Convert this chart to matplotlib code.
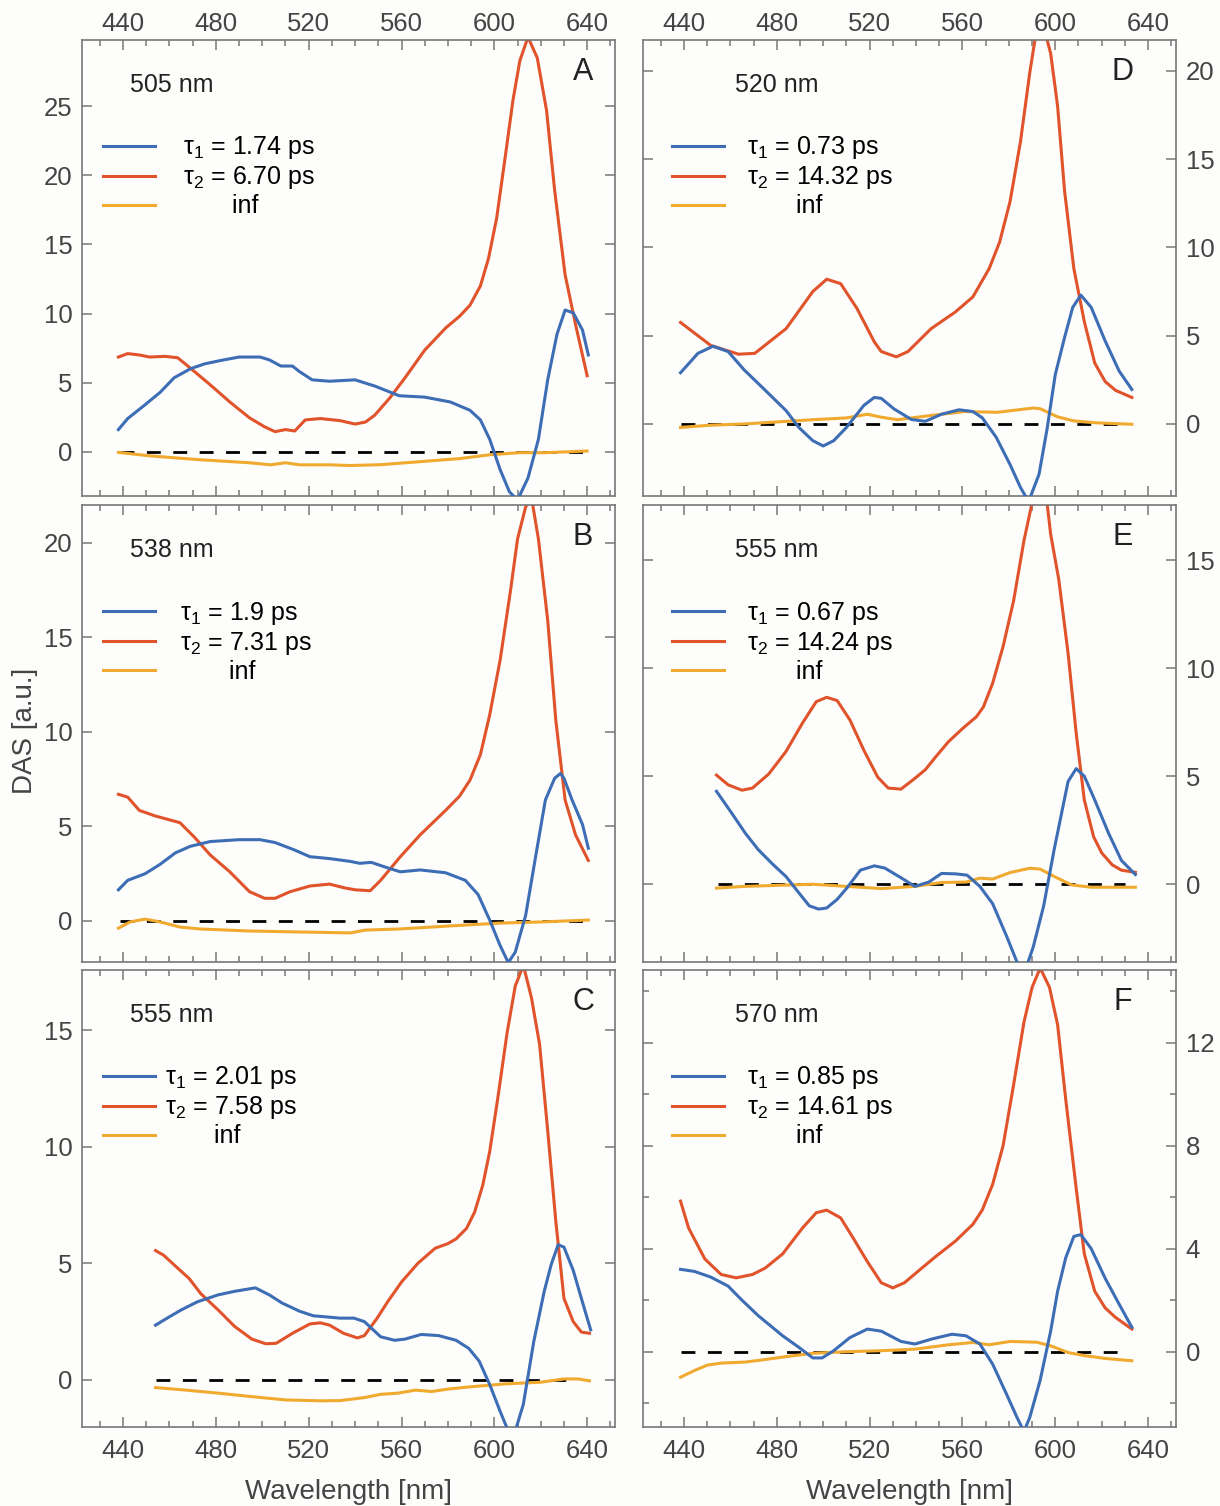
import matplotlib
matplotlib.use("Agg")
import matplotlib.pyplot as plt
from matplotlib.ticker import MultipleLocator, NullLocator

plt.rcParams['font.family'] = ['Liberation Sans', 'DejaVu Sans']
plt.rcParams['mathtext.fontset'] = 'custom'
plt.rcParams['mathtext.rm'] = 'Liberation Sans'
plt.rcParams['mathtext.it'] = 'Liberation Sans'

# colours of the three DAS components
c_t1 = '#3d6db5'
c_t2 = '#e0532b'
c_inf = '#f0aa30'

# ---------------- panel A (505 nm) ----------------
A_wl1 = [438, 442, 449.5, 456, 462, 469, 475, 482, 490, 499, 503, 508, 513, 516, 521.5, 529, 540, 548.5, 559, 570, 581, 589.5, 594, 598, 602.5, 606.5, 610, 614.5, 619, 623, 627, 630.5, 634, 638, 640.5]
A_t1 = [1.6, 2.4, 3.4, 4.3, 5.35, 6.0, 6.35, 6.6, 6.85, 6.85, 6.65, 6.2, 6.2, 5.8, 5.2, 5.1, 5.2, 4.75, 4.05, 3.95, 3.6, 3.0, 2.3, 0.9, -1.3, -2.9, -3.5, -1.9, 0.9, 5.2, 8.5, 10.25, 10.05, 8.8, 7.0]
A_wl2 = [438, 442, 447, 451.5, 458, 463.5, 469, 477.5, 486, 494.5, 501, 505.5, 510, 514, 518.5, 525, 533.5, 540, 544.5, 548.5, 555, 561.5, 570, 579, 585, 589.5, 594, 597.5, 601, 604.5, 608, 611, 614.5, 618.5, 622.5, 626, 630.5, 635, 640]
A_t2 = [6.85, 7.1, 7.0, 6.85, 6.9, 6.8, 6.05, 4.85, 3.6, 2.45, 1.8, 1.45, 1.6, 1.5, 2.3, 2.4, 2.25, 2.0, 2.15, 2.65, 3.9, 5.35, 7.35, 8.95, 9.8, 10.6, 12.0, 14.0, 16.9, 21.1, 25.4, 28.3, 30.0, 28.5, 24.7, 18.9, 12.8, 9.2, 5.5]
A_wl3 = [438, 451.5, 473, 494.5, 503.5, 510, 516, 529, 538, 551, 568, 585, 598, 611, 622, 640]
A_inf = [-0.05, -0.3, -0.58, -0.8, -0.95, -0.8, -0.95, -0.95, -1.0, -0.94, -0.72, -0.5, -0.22, -0.07, -0.07, 0.05]

# ---------------- panel B (538 nm) ----------------
B_wl1 = [438, 442, 449.5, 456, 462.5, 469, 477.5, 490, 499, 505.5, 514, 520.5, 529, 538, 542, 547, 553, 559.5, 568, 579, 587.5, 593, 598, 602.5, 606, 609, 613.5, 617.5, 622, 626, 628.5, 630, 633.5, 638, 640.5]
B_t1 = [1.65, 2.15, 2.5, 3.0, 3.6, 3.95, 4.2, 4.3, 4.3, 4.15, 3.75, 3.4, 3.3, 3.15, 3.05, 3.1, 2.85, 2.6, 2.7, 2.55, 2.15, 1.4, 0.05, -1.3, -2.2, -1.65, 0.3, 3.2, 6.4, 7.55, 7.8, 7.55, 6.4, 5.1, 3.85]
B_wl2 = [438, 442, 447, 454, 460, 464.5, 471, 477.5, 486, 494.5, 501, 505.5, 512, 520.5, 529, 535.5, 540, 546.5, 551, 559.5, 568, 579, 585, 589.5, 594, 598, 602.5, 607, 610, 613.5, 616, 619, 623, 626.5, 630.5, 635, 640.5]
B_t2 = [6.7, 6.55, 5.85, 5.55, 5.35, 5.2, 4.4, 3.5, 2.6, 1.55, 1.2, 1.2, 1.55, 1.85, 1.95, 1.75, 1.65, 1.6, 2.15, 3.4, 4.55, 5.85, 6.6, 7.45, 8.8, 10.9, 13.8, 17.5, 20.2, 21.9, 22.4, 20.2, 15.9, 10.6, 6.4, 4.55, 3.2]
B_wl3 = [438, 443, 449.5, 456, 464.5, 473, 494.5, 516, 538, 544.5, 559.5, 581, 602.5, 620.5, 640.5]
B_inf = [-0.38, -0.05, 0.1, -0.05, -0.32, -0.42, -0.53, -0.58, -0.63, -0.48, -0.42, -0.26, -0.11, -0.05, 0.05]

# ---------------- panel C (555 nm) ----------------
C_wl1 = [454, 459, 465, 472, 481, 488, 497, 503, 508.5, 516, 522, 528, 533.5, 539.5, 544, 551, 557, 561.5, 568.5, 576, 583.5, 589, 593.5, 598, 602.5, 606, 609, 612.5, 617, 621.5, 624.5, 627.5, 630, 634, 637.5, 641.5]
C_t1 = [2.35, 2.65, 3.0, 3.35, 3.65, 3.8, 3.95, 3.65, 3.3, 2.95, 2.75, 2.7, 2.65, 2.65, 2.5, 1.85, 1.7, 1.75, 1.95, 1.9, 1.7, 1.35, 0.8, -0.2, -1.35, -2.2, -2.2, -1.05, 1.65, 3.8, 4.95, 5.8, 5.7, 4.7, 3.5, 2.15]
C_wl2 = [454, 457.5, 463.5, 468.5, 473.5, 481, 488, 495.5, 501.5, 506, 513, 520.5, 525, 529, 535, 541, 544, 549.5, 554, 560, 567, 574.5, 580, 583.5, 588, 591.5, 595, 598, 601.5, 605.5, 609, 612.5, 616, 619.5, 623, 626.5, 630, 634, 637.5, 641]
C_t2 = [5.55, 5.35, 4.8, 4.35, 3.7, 3.0, 2.3, 1.75, 1.55, 1.57, 2.0, 2.4, 2.45, 2.35, 2.0, 1.8, 1.9, 2.65, 3.35, 4.2, 5.0, 5.65, 5.85, 6.05, 6.5, 7.2, 8.35, 9.8, 12.1, 14.9, 16.9, 17.8, 16.4, 14.4, 10.7, 6.8, 3.5, 2.5, 2.05, 2.0]
C_wl3 = [454, 466, 481, 495.5, 510, 525, 533.5, 544, 551, 558.5, 566, 573, 580.5, 590.5, 605, 620, 630, 636, 641]
C_inf = [-0.33, -0.43, -0.57, -0.72, -0.86, -0.9, -0.89, -0.76, -0.62, -0.57, -0.44, -0.5, -0.39, -0.29, -0.17, -0.1, 0.04, 0.04, -0.04]

# ---------------- panel D (520 nm) ----------------
D_wl1 = [438.5, 446, 452.5, 459, 466, 473.5, 484, 489.5, 495.5, 500, 504.5, 510, 517.5, 522, 525, 530.5, 538, 544, 551, 558.5, 564.5, 568.5, 574.5, 580.5, 585, 588.5, 593, 596.5, 600, 604, 607.5, 611, 615.5, 621.5, 627.5, 633]
D_t1 = [2.9, 4.0, 4.4, 4.1, 3.05, 2.1, 0.75, -0.2, -0.95, -1.25, -0.95, -0.2, 1.05, 1.5, 1.45, 0.85, 0.25, 0.15, 0.55, 0.8, 0.7, 0.35, -0.75, -2.3, -3.6, -4.4, -2.85, -0.25, 2.8, 4.9, 6.6, 7.3, 6.6, 4.7, 3.0, 1.95]
D_wl2 = [438.5, 451.5, 463.5, 470.5, 484, 495.5, 501.5, 507.5, 514.5, 522, 525, 531.5, 536.5, 546.5, 557, 564.5, 571.5, 576, 580.5, 585, 589, 592, 595, 598, 601, 604, 608, 612.5, 617, 621.5, 626, 633]
D_t2 = [5.75, 4.45, 3.95, 4.0, 5.4, 7.5, 8.2, 7.95, 6.55, 4.65, 4.1, 3.8, 4.1, 5.4, 6.35, 7.2, 8.8, 10.3, 12.6, 16.0, 19.9, 22.4, 22.5, 21.0, 18.0, 13.2, 8.8, 5.8, 3.45, 2.4, 1.9, 1.5]
D_wl3 = [438.5, 451.5, 466, 481, 495.5, 510, 519, 525, 532, 546.5, 561, 575, 590.5, 593.5, 601, 608, 618, 633]
D_inf = [-0.2, -0.07, 0.0, 0.12, 0.24, 0.34, 0.55, 0.38, 0.24, 0.48, 0.7, 0.66, 0.9, 0.86, 0.4, 0.17, 0.06, -0.02]

# ---------------- panel E (555 nm) ----------------
E_wl1 = [454, 460.5, 466.5, 472, 478, 484, 489.5, 494, 498, 501.5, 506, 510, 516, 522, 526.5, 533.5, 539.5, 545.5, 551, 557, 562, 567.5, 573, 579, 583.5, 587, 590.5, 595, 599.5, 605.5, 609, 612.5, 617, 623, 628.5, 634.5]
E_t1 = [4.3, 3.3, 2.35, 1.6, 0.95, 0.35, -0.4, -1.0, -1.15, -1.1, -0.7, -0.2, 0.65, 0.85, 0.75, 0.3, -0.1, 0.1, 0.5, 0.48, 0.42, -0.1, -0.9, -2.4, -3.6, -4.0, -2.9, -1.0, 1.6, 4.75, 5.35, 5.0, 3.9, 2.35, 1.1, 0.45]
E_wl2 = [454, 459, 465, 469.5, 476.5, 484, 491, 497, 501.5, 506, 511.5, 517.5, 523.5, 528, 533.5, 539.5, 544, 548.5, 554, 560, 566, 569, 573, 577.5, 582, 586.5, 590.5, 593.5, 596.5, 598, 601.5, 605.5, 609, 612.5, 616.5, 620, 624.5, 628.5, 634.5]
E_t2 = [5.05, 4.6, 4.35, 4.45, 5.1, 6.15, 7.45, 8.45, 8.65, 8.5, 7.6, 6.2, 4.95, 4.45, 4.4, 4.9, 5.3, 5.9, 6.6, 7.2, 7.75, 8.2, 9.3, 11.0, 13.1, 15.9, 17.9, 18.1, 17.6, 16.2, 14.1, 10.7, 7.0, 3.9, 2.2, 1.45, 0.9, 0.65, 0.55]
E_wl3 = [454, 466, 481, 495.5, 510, 525, 539.5, 551, 561.5, 567.5, 573, 580.5, 589, 593.5, 599.5, 607, 615.5, 634.5]
E_inf = [-0.18, -0.1, -0.05, 0.0, -0.1, -0.2, -0.1, 0.08, 0.1, 0.28, 0.24, 0.54, 0.74, 0.7, 0.36, -0.03, -0.14, -0.14]

# ---------------- panel F (570 nm) ----------------
F_wl1 = [438.5, 444.5, 451.5, 459, 465, 472, 482.5, 489.5, 495.5, 499.5, 504.5, 511.5, 519, 525, 533.5, 539.5, 547, 555.5, 561.5, 567.5, 573, 579, 583.5, 586.5, 589, 593.5, 598, 601, 604.5, 608, 611, 615.5, 621.5, 627.5, 633]
F_t1 = [3.2, 3.12, 2.9, 2.55, 2.0, 1.4, 0.62, 0.17, -0.24, -0.24, 0.04, 0.55, 0.88, 0.8, 0.4, 0.3, 0.5, 0.68, 0.62, 0.3, -0.48, -1.65, -2.55, -3.1, -2.55, -1.1, 0.8, 2.35, 3.65, 4.48, 4.55, 4.0, 2.85, 1.85, 0.95]
F_wl2 = [438.5, 442, 449, 456, 462.5, 469.5, 475, 482.5, 491, 497, 501.5, 507.5, 513, 519, 525, 530, 535, 542.5, 548.5, 557, 564.5, 568.5, 573, 577.5, 582, 586.5, 590, 593.5, 597.5, 601, 604.5, 609, 612.5, 617, 621.5, 626, 633]
F_t2 = [5.85, 4.8, 3.6, 3.0, 2.87, 3.0, 3.25, 3.8, 4.8, 5.4, 5.5, 5.2, 4.4, 3.5, 2.68, 2.48, 2.68, 3.25, 3.7, 4.3, 4.95, 5.5, 6.5, 8.0, 10.35, 12.8, 14.15, 14.9, 14.15, 12.7, 9.8, 6.35, 3.8, 2.35, 1.7, 1.33, 0.88]
F_wl3 = [438.5, 444.5, 450, 456, 466.5, 473.5, 484, 495.5, 510, 525, 539.5, 554, 564.5, 571.5, 580.5, 592, 598, 605.5, 612.5, 621.5, 633]
F_inf = [-0.99, -0.73, -0.52, -0.44, -0.4, -0.32, -0.19, -0.06, 0.0, 0.04, 0.1, 0.27, 0.36, 0.27, 0.4, 0.37, 0.23, -0.03, -0.15, -0.26, -0.35]

# panel settings
names = ['A', 'B', 'C', 'D', 'E', 'F']
probe = ['505 nm', '538 nm', '555 nm', '520 nm', '555 nm', '570 nm']
tau1 = ['1.74', '1.9', '2.01', '0.73', '0.67', '0.85']
tau2 = ['6.70', '7.31', '7.58', '14.32', '14.24', '14.61']
zero_from = [438.5, 438.5, 454, 438.5, 454.5, 438.5]
zero_to = [641, 641, 636, 628, 630, 630]
ylims = [(-3.2, 29.8), (-2.17, 22.0), (-2.02, 17.6), (-4.08, 21.76), (-3.6, 17.55), (-2.92, 14.83)]
ymajor = [5, 5, 5, 5, 5, 4]

data = {
    'A': (A_wl1, A_t1, A_wl2, A_t2, A_wl3, A_inf),
    'B': (B_wl1, B_t1, B_wl2, B_t2, B_wl3, B_inf),
    'C': (C_wl1, C_t1, C_wl2, C_t2, C_wl3, C_inf),
    'D': (D_wl1, D_t1, D_wl2, D_t2, D_wl3, D_inf),
    'E': (E_wl1, E_t1, E_wl2, E_t2, E_wl3, E_inf),
    'F': (F_wl1, F_t1, F_wl2, F_t2, F_wl3, F_inf),
}

bg = '#fdfdfb'
grey = '#777777'
fig = plt.figure(figsize=(12.2, 15.06), dpi=100, facecolor=bg)

lefts = [0.0672, 0.0672, 0.0672, 0.527, 0.527, 0.527]
bottoms = [0.6707, 0.3612, 0.0525, 0.6707, 0.3612, 0.0525]
heights = [0.3028, 0.3035, 0.3035, 0.3028, 0.3035, 0.3035]
pads = {'A': 1.1, 'B': 1.0, 'C': 0.4, 'D': 0.9, 'E': 0.9, 'F': 0.9}

for i, name in enumerate(names):
    ax = fig.add_axes([lefts[i], bottoms[i], 0.4369, heights[i]], facecolor=bg)
    wl1, t1, wl2, t2, wl3, tinf = data[name]
    right = i >= 3
    row = i % 3

    ax.plot([zero_from[i], zero_to[i]], [0, 0], color='black', lw=2.0, ls=(0, (5, 4.5)), zorder=1)
    l1, = ax.plot(wl1, t1, color=c_t1, lw=2.2, zorder=3)
    l2, = ax.plot(wl2, t2, color=c_t2, lw=2.2, zorder=2)
    l3, = ax.plot(wl3, tinf, color=c_inf, lw=2.2, zorder=2)

    ax.set_xlim(422.3, 652)
    ax.set_ylim(*ylims[i])
    ax.xaxis.set_major_locator(MultipleLocator(40))
    ax.xaxis.set_minor_locator(MultipleLocator(10))
    ax.yaxis.set_major_locator(MultipleLocator(ymajor[i]))
    if name == 'F':
        ax.yaxis.set_minor_locator(MultipleLocator(2))
    else:
        ax.yaxis.set_minor_locator(NullLocator())

    for s in ax.spines.values():
        s.set_color(grey)
        s.set_linewidth(1.2)
    ax.tick_params(which='both', direction='in', top=True, right=True, bottom=True, left=True,
                   color=grey, width=1.1, labelsize=18.5, labelcolor='#444444')
    ax.tick_params(which='major', length=7)
    ax.tick_params(which='minor', length=4.5)
    ax.tick_params(axis='y', pad=7)
    ax.tick_params(axis='x', labeltop=(row == 0), labelbottom=(row == 2))
    if row == 0:
        ax.tick_params(axis='x', pad=3)
    else:
        ax.tick_params(axis='x', pad=9)
    ax.tick_params(axis='y', labelleft=not right, labelright=right)

    if row == 2:
        ax.set_xlabel('Wavelength [nm]', fontsize=20, color='#444444', labelpad=11)

    # probe wavelength and panel letter
    tx = 0.173 if right else 0.09
    ax.text(tx, 0.902, probe[i], transform=ax.transAxes, fontsize=18, va='center', ha='left', color='#222222')
    lx = 0.90 if right else 0.94
    ax.text(lx, 0.93, name, transform=ax.transAxes, fontsize=22, va='center', ha='center', color='#222222')

    labels = ['τ$_1$ = ' + tau1[i] + ' ps', 'τ$_2$ = ' + tau2[i] + ' ps', '       inf']
    hx = 0.054 if right else 0.039
    ax.legend([l1, l2, l3], labels, loc='upper left', bbox_to_anchor=(hx, 0.793),
              frameon=False, fontsize=18, handlelength=2.1, handletextpad=pads[name],
              labelspacing=0.12, borderpad=0, borderaxespad=0)

fig.text(0.0205, 0.515, 'DAS [a.u.]', rotation=90, fontsize=20, color='#444444', va='center', ha='center')

fig.savefig('out.png', dpi=100, facecolor=bg)
